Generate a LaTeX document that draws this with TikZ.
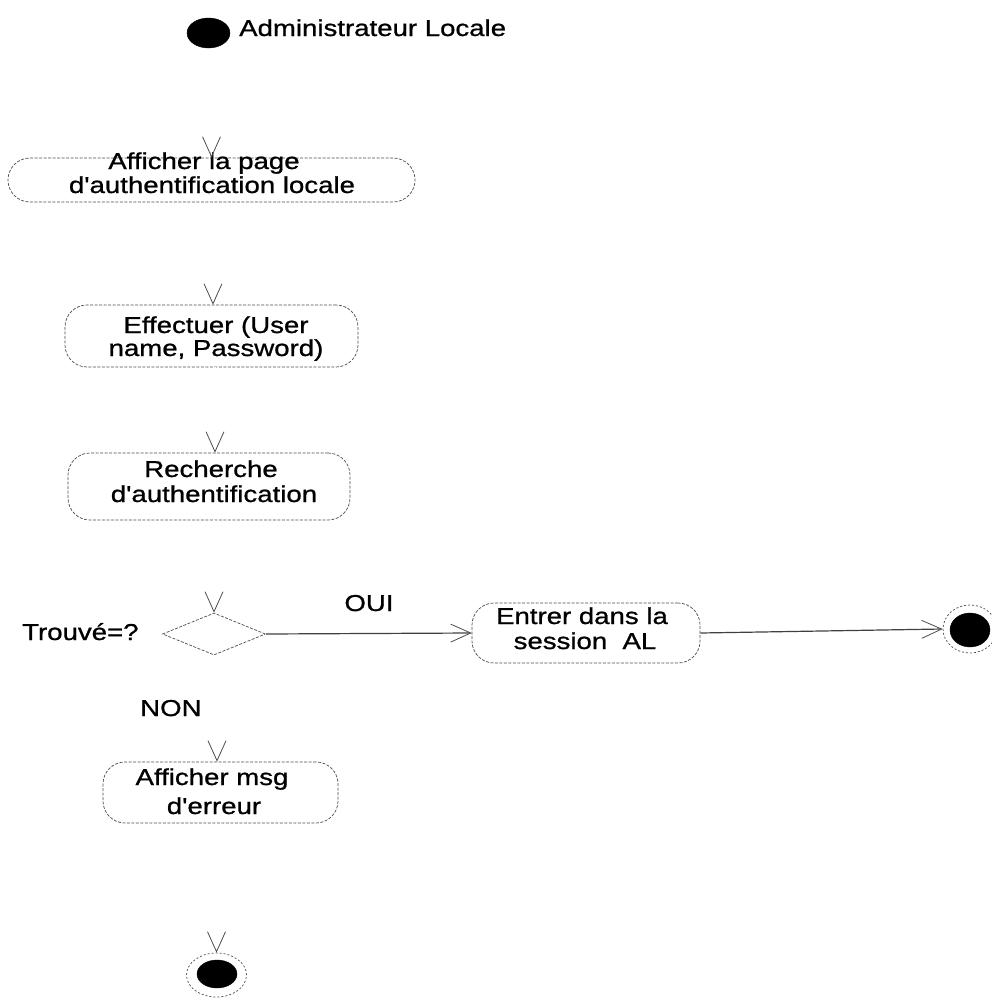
\documentclass[tikz,border=0pt]{standalone}
\usepackage{fontspec}
\newfontfamily\lsans{Liberation Sans}[FakeStretch=1.2,FakeBold=0.9]
\usetikzlibrary{arrows.meta,shapes.geometric}
\tikzset{
  act/.style={draw=black!70, line width=0.7pt, dash pattern=on 3pt off 1.5pt,
    rounded corners=22pt, inner sep=0pt},
  txt/.style={anchor=base, inner sep=0pt, font=\lsans\fontsize{23}{24}\selectfont},
  lbl/.style={inner sep=0pt, font=\lsans\fontsize{23}{24}\selectfont},
  tip/.tip={Straight Barb[length=20pt,width=18pt,color=black!70,line width=0.8pt]},
  hid/.style={draw=white, line width=0.8pt, -tip},
  flow/.style={draw=black!75, line width=1.2pt, -tip},
  dot/.style={ellipse, fill=black, draw=black, inner sep=0pt},
  ring/.style={ellipse, draw=black!70, line width=0.7pt, dash pattern=on 2pt off 2pt, inner sep=0pt},
  decision/.style={diamond, draw=black!70, line width=0.7pt, dash pattern=on 3pt off 1.5pt, inner sep=0pt}
}
\begin{document}
\begin{tikzpicture}[x=1pt,y=-1pt]
\useasboundingbox (0,0) rectangle (992,999);
% start
\node[dot, minimum width=43pt, minimum height=30pt] (start) at (208.5,33) {};
\node[lbl, anchor=base west] (startlbl) at (239,36) {Administrateur Locale};
% activities
\node[act, minimum width=407pt, minimum height=44pt] (a1) at (211.5,180) {};
\node[txt] (a1l1) at (204,169) {Afficher la page};
\node[txt] (a1l2) at (212,193) {d'authentification locale};

\node[act, minimum width=293pt, minimum height=62pt] (a2) at (211.5,336) {};
\node[txt] (a2l1) at (216,333) {Effectuer (User};
\node[txt] (a2l2) at (216,356) {name, Password)};

\node[act, minimum width=282pt, minimum height=67pt] (a3) at (209,486.5) {};
\node[txt] (a3l1) at (211,477) {Recherche};
\node[txt] (a3l2) at (214,502) {d'authentification};

\node[decision, minimum width=103pt, minimum height=42pt] (dec) at (214,634) {};
\node[lbl, anchor=base west] (trouve) at (22,640) {Trouvé=?};
\node[lbl, anchor=base] (oui) at (369,611) {OUI};
\node[lbl, anchor=base west] (non) at (140,716) {NON};

\node[act, minimum width=228pt, minimum height=60pt] (en) at (586,633) {};
\node[txt] (enl1) at (582,624) {Entrer dans la};
\node[txt] (enl2) at (585,649) {session~~AL};

\node[act, minimum width=235pt, minimum height=61pt] (msg) at (220.5,792.5) {};
\node[txt] (msgl1) at (212,785) {Afficher msg};
\node[txt] (msgl2) at (214,814) {d'erreur};

% end states
\node[ring, minimum width=54pt, minimum height=48pt] (end1r) at (970,629) {};
\node[dot, minimum width=40pt, minimum height=34pt] (end1) at (970,630) {};
\node[ring, minimum width=60pt, minimum height=44pt] (end2r) at (216.5,975) {};
\node[dot, minimum width=40pt, minimum height=28pt] (end2) at (217,974) {};

% connectors
\draw[hid] (a1.north |- start.south) -- (a1.north);
\draw[hid] ([xshift=1.5pt]a2.north |- a1.south) -- ([xshift=1.5pt]a2.north);
\draw[hid] ([xshift=6pt]a3.north |- a2.south) -- ([xshift=6pt]a3.north);
\draw[hid] (dec.north |- a3.south) -- (dec.north);
\draw[flow] (dec.east) -- (en.west);
\draw[flow] (en.east) -- (end1r.west);
\draw[hid] ([xshift=-3.5pt]msg.north |- dec.south) -- ([xshift=-3.5pt]msg.north);
\draw[hid] (end2r.north |- msg.south) -- (end2r.north);
\end{tikzpicture}
\end{document}
